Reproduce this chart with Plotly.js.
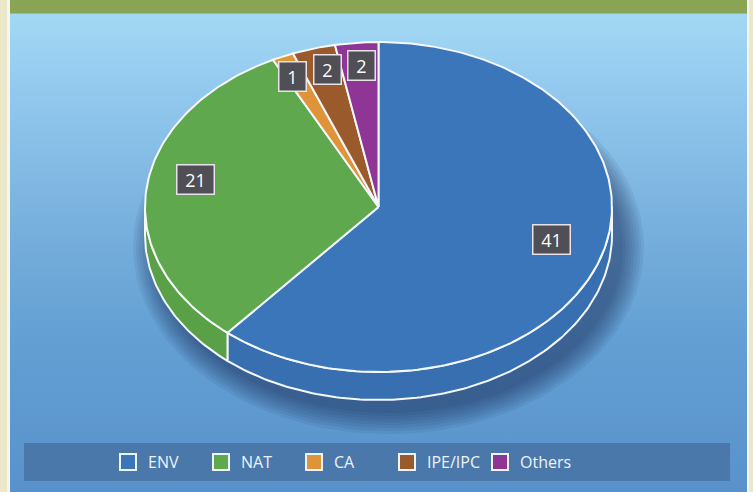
<!DOCTYPE html>
<html>
<head>
<meta charset="utf-8">
<script src="https://cdn.plot.ly/plotly-3.0.1.min.js"></script>
<style>
  html, body { margin: 0; padding: 0; }
  #wrap { position: relative; width: 753px; height: 492px; background: #ebe8c9; overflow: hidden; }
  #edge { position: absolute; left: 7px; top: 0; width: 742px; height: 492px; background: #f6f6ee; }
  #bg { position: absolute; left: 10px; top: 0; width: 737px; height: 492px;
        background: linear-gradient(to bottom, #a6dbf5 0px, #95cbef 80px, #79b1de 220px, #639fd3 340px, #5992cb 492px); }
  #banner { position: absolute; left: 10px; top: 0; width: 737px; height: 13px; background: #8aa456;
            border-bottom: 1px solid #9fbf73; }
  #chart { position: absolute; left: 0; top: 0; width: 753px; height: 492px; }
</style>
</head>
<body>
<div id="wrap">
  <div id="edge"></div>
  <div id="bg"></div>
  <div id="banner"></div>
  <div id="chart"></div>
</div>
<script>
// ---- data ----
const categories = ['ENV', 'NAT', 'CA', 'IPE/IPC', 'Others'];
const values = [41, 21, 1, 2, 2];
const labels = ['41', '21', '1', '2', '2'];

// ---- styles ----
const topColors  = ['#3b76bb', '#5fa84d', '#df943a', '#9a5a2b', '#8e3596'];
const sideColors = ['#386fb1', '#59a047', '#d28a34', '#8f5327', '#843190'];

// ---- geometry (layout constants) ----
const W = 753, H = 492;
const CX = 378.5, CY = 207, RX = 233.5, RY = 165, DEPTH = 28;

function pt(deg, dy) {
  const r = deg * Math.PI / 180;
  return [CX + RX * Math.sin(r), CY - RY * Math.cos(r) + (dy || 0)];
}
function arc(a, b, dy) {
  const pts = [];
  const n = Math.max(2, Math.ceil(Math.abs(b - a)));
  for (let i = 0; i <= n; i++) pts.push(pt(a + (b - a) * i / n, dy));
  return pts;
}

const total = values.reduce((s, v) => s + v, 0);
const starts = [], ends = [];
let acc = 0;
values.forEach(v => { starts.push(acc / total * 360); acc += v; ends.push(acc / total * 360); });

const traces = [];

// soft shadow under the pie
for (let k = 0; k < 8; k++) {
  const grow = 22 - k * 3;
  const xs = [], ys = [];
  for (let d = 0; d <= 360; d += 3) {
    const r = d * Math.PI / 180;
    xs.push(CX + 10 + (RX + grow) * Math.sin(r));
    ys.push(CY + DEPTH + 12 - (RY + grow) * Math.cos(r));
  }
  traces.push({ type: 'scatter', mode: 'lines', x: xs, y: ys, fill: 'toself',
    fillcolor: 'rgba(15,35,75,0.07)', line: { width: 0 }, hoverinfo: 'skip', showlegend: false });
}

// side walls (visible front half: 90..270 deg)
values.forEach((v, i) => {
  const a = Math.max(starts[i], 90), b = Math.min(ends[i], 270);
  if (b <= a) return;
  const topArc = arc(a, b, 0);
  const botArc = arc(b, a, DEPTH);
  const poly = topArc.concat(botArc);
  poly.push(topArc[0]);
  traces.push({ type: 'scatter', mode: 'lines', x: poly.map(p => p[0]), y: poly.map(p => p[1]),
    fill: 'toself', fillcolor: sideColors[i], line: { color: '#f4f8fb', width: 2 },
    hoverinfo: 'skip', showlegend: false });
});

// top face wedges
values.forEach((v, i) => {
  const poly = [[CX, CY]].concat(arc(starts[i], ends[i], 0));
  poly.push([CX, CY]);
  traces.push({ type: 'scatter', mode: 'lines', x: poly.map(p => p[0]), y: poly.map(p => p[1]),
    fill: 'toself', fillcolor: topColors[i], line: { color: '#f4f8fb', width: 2 },
    hoverinfo: 'skip', showlegend: false, name: categories[i] });
});

// legend entries
categories.forEach((c, i) => {
  traces.push({ type: 'scatter', mode: 'markers', x: [null], y: [null], name: c,
    marker: { symbol: 'square', size: 16, color: topColors[i], line: { color: '#eef4fa', width: 2 } },
    hoverinfo: 'skip', showlegend: true });
});

// data labels
const annotations = values.map((v, i) => {
  const mid = (starts[i] + ends[i]) / 2;
  const r = mid * Math.PI / 180;
  const f = 0.79;
  return {
    x: CX + RX * f * Math.sin(r) - (v < 2 ? 10 : 0), y: CY - 12 - RY * f * Math.cos(r),
    xref: 'x', yref: 'y', text: labels[i], showarrow: false,
    font: { family: 'Open Sans, Noto Sans, sans-serif', size: 18, color: '#ffffff' },
    bgcolor: '#4f4f55', bordercolor: '#e8e2ea', borderwidth: 1.5, borderpad: 2,
    width: labels[i].length > 1 ? 32 : 22
  };
});

const layout = {
  width: W, height: H,
  margin: { l: 0, r: 0, t: 0, b: 0 },
  paper_bgcolor: 'rgba(0,0,0,0)', plot_bgcolor: 'rgba(0,0,0,0)',
  xaxis: { range: [0, W], visible: false, fixedrange: true, autorange: false },
  yaxis: { range: [H, 0], visible: false, fixedrange: true, autorange: false },
  showlegend: true,
  legend: {
    orientation: 'h', x: 108 / W, xanchor: 'left', y: 1 - 462 / H, yanchor: 'middle',
    bgcolor: 'rgba(0,0,0,0)', entrywidth: 48, entrywidthmode: 'pixels',
    font: { family: 'Open Sans, Noto Sans, sans-serif', size: 16, color: '#eef3f8' }
  },
  shapes: [{
    type: 'rect', xref: 'paper', yref: 'paper', layer: 'below',
    x0: 24 / W, x1: 730 / W, y0: 1 - 481 / H, y1: 1 - 443 / H,
    fillcolor: '#4a78aa', line: { width: 0 }
  }],
  annotations: annotations
};

Plotly.newPlot('chart', traces, layout, { displayModeBar: false, staticPlot: true });
</script>
</body>
</html>
